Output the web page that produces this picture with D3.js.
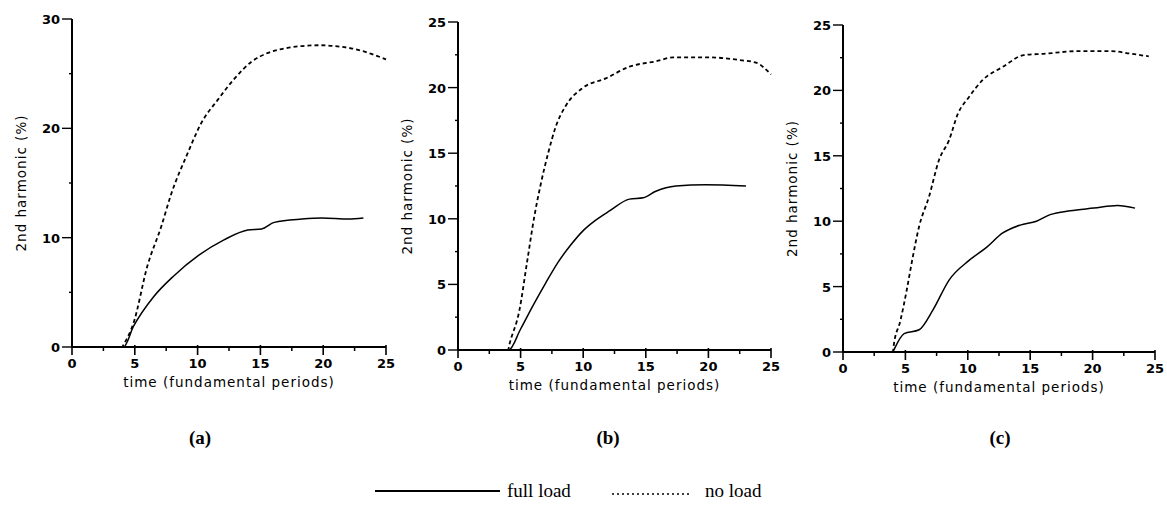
<!DOCTYPE html>
<html>
<head>
<meta charset="utf-8">
<script src="https://cdn.jsdelivr.net/npm/d3@7"></script>
<style>
    body { margin: 0; background: #fff; }
    svg { display: block; }
    .tick-label { font-family: "DejaVu Sans", sans-serif; font-weight: bold; font-size: 13px; }
    .axis-title { font-family: "DejaVu Sans", sans-serif; font-size: 13.5px; letter-spacing: 1px; }
    .caption { font-family: "Liberation Serif", serif; font-weight: bold; font-size: 19px; }
    .legend { font-family: "Liberation Serif", serif; font-size: 19px; }
</style>
</head>
<body>
<div id="chart"></div>
<script>
(function () {
    'use strict';

    // time in fundamental periods, 2nd harmonic in %
    var fullLoadA = [[0, 0], [4, 0], [4.1, 0], [4.9, 1.9], [6.5, 4.6], [8.1, 6.5], [10.1, 8.4], [12.1, 9.8],
        [14, 10.7], [15.1, 10.8], [16.1, 11.4], [18.3, 11.7], [19.9, 11.8], [22, 11.7], [23.2, 11.8]];
    var noLoadA = [[0, 0], [4, 0], [4.1, 0.2], [4.9, 2.2], [6, 7.4], [7.1, 11], [7.9, 14], [9.2, 17.7],
        [10.3, 20.5], [11.6, 22.6], [12.9, 24.5], [14.3, 26.1], [15.6, 26.9], [16.9, 27.3], [19.6, 27.6],
        [22.3, 27.3], [23.6, 26.9], [25, 26.3]];

    var fullLoadB = [[0, 0], [4, 0], [4.05, 0], [5, 1.6], [6, 3.4], [7, 5.1], [8, 6.7], [9, 8], [10, 9.1],
        [11, 9.9], [12.1, 10.6], [13.7, 11.5], [14.8, 11.6], [15.8, 12.1], [17.4, 12.5], [19.8, 12.6], [23, 12.5]];
    var noLoadB = [[0, 0], [4, 0], [4.1, 0.4], [4.9, 3], [5.5, 6.6], [6.1, 10.2], [6.6, 12.6],
        [7.2, 15], [7.8, 17], [8.6, 18.6], [10, 20], [11.8, 20.7], [13.7, 21.6], [15.8, 22], [17.2, 22.3],
        [20.1, 22.3], [22.5, 22.1], [23.8, 21.9], [25, 21]];

    var fullLoadC = [[0, 0], [4, 0], [4.05, 0.1], [4.9, 1.4], [6.1, 1.7], [7.2, 3.2], [8.5, 5.5], [10.1, 7],
        [11.5, 8], [12.8, 9.1], [14.2, 9.7], [15.5, 10], [16.6, 10.5], [18.2, 10.8], [20.1, 11], [22, 11.2], [23.4, 11]];
    var noLoadC = [[0, 0], [4, 0], [4.05, 0.4], [4.6, 2.4], [5.1, 4.7], [5.5, 6.8], [6.1, 9.6], [6.9, 11.9],
        [7.7, 14.7], [8.5, 16.2], [9.2, 18.2], [10.1, 19.5], [11.2, 20.8], [12.8, 21.8], [14.5, 22.7],
        [16.1, 22.8], [18.8, 23], [21.5, 23], [23.1, 22.8], [24.5, 22.6]];

    var xTicks = [0, 5, 10, 15, 20, 25];
    var xMinor = [2.5, 7.5, 12.5, 17.5, 22.5];
    var yTicksA = [0, 10, 20, 30];
    var yMinorA = [5, 15, 25];
    var yTicksBC = [0, 5, 10, 15, 20, 25];
    var yMinorBC = [2.5, 7.5, 12.5, 17.5, 22.5];

    var panels = [
        { left: 72, right: 386, bottom: 347, top: 19, yMax: 30, yTicks: yTicksA, yMinor: yMinorA,
          full: fullLoadA, none: noLoadA, caption: '(a)', capX: 200 },
        { left: 458, right: 771, bottom: 350, top: 22, yMax: 25, yTicks: yTicksBC, yMinor: yMinorBC,
          full: fullLoadB, none: noLoadB, caption: '(b)', capX: 608 },
        { left: 843, right: 1155, bottom: 352, top: 25, yMax: 25, yTicks: yTicksBC, yMinor: yMinorBC,
          full: fullLoadC, none: noLoadC, caption: '(c)', capX: 1000 }
    ];

    var svg = d3.select('#chart')
        .append('svg')
        .attr('width', 1167)
        .attr('height', 512);

    panels.forEach(function (p) {
        var x = d3.scaleLinear().domain([0, 25]).range([p.left, p.right]);
        var y = d3.scaleLinear().domain([0, p.yMax]).range([p.bottom, p.top]);
        var g = svg.append('g');

        // axes lines
        g.append('line')
            .attr('x1', x(0)).attr('x2', x(25))
            .attr('y1', y(0)).attr('y2', y(0))
            .attr('stroke', '#000').attr('stroke-width', 2);
        g.append('line')
            .attr('x1', x(0)).attr('x2', x(0))
            .attr('y1', y(0)).attr('y2', y(p.yMax))
            .attr('stroke', '#000').attr('stroke-width', 2);

        // x ticks
        g.selectAll('.xmaj').data(xTicks).enter().append('line')
            .attr('x1', function (d) { return x(d); }).attr('x2', function (d) { return x(d); })
            .attr('y1', y(0) - 2).attr('y2', y(0) + 8)
            .attr('stroke', '#000').attr('stroke-width', 1.6);
        g.selectAll('.xmin').data(xMinor).enter().append('line')
            .attr('x1', function (d) { return x(d); }).attr('x2', function (d) { return x(d); })
            .attr('y1', y(0)).attr('y2', y(0) + 4)
            .attr('stroke', '#000').attr('stroke-width', 1.5);
        g.selectAll('.xlab').data(xTicks).enter().append('text')
            .attr('class', 'tick-label')
            .attr('x', function (d) { return x(d); })
            .attr('y', y(0) + 21)
            .attr('text-anchor', 'middle')
            .text(function (d) { return d; });

        // y ticks
        g.selectAll('.ymaj').data(p.yTicks).enter().append('line')
            .attr('x1', x(0) - 10).attr('x2', x(0))
            .attr('y1', function (d) { return y(d); }).attr('y2', function (d) { return y(d); })
            .attr('stroke', '#000').attr('stroke-width', 1.4);
        g.selectAll('.ymin').data(p.yMinor).enter().append('line')
            .attr('x1', x(0) - 3).attr('x2', x(0))
            .attr('y1', function (d) { return y(d); }).attr('y2', function (d) { return y(d); })
            .attr('stroke', '#000').attr('stroke-width', 1.4);
        g.selectAll('.ylab').data(p.yTicks).enter().append('text')
            .attr('class', 'tick-label')
            .attr('x', x(0) - 12)
            .attr('y', function (d) { return y(d) + 5; })
            .attr('text-anchor', 'end')
            .text(function (d) { return d; });

        // titles
        g.append('text')
            .attr('class', 'axis-title')
            .attr('x', (x(0) + x(25)) / 2)
            .attr('y', y(0) + 40)
            .attr('text-anchor', 'middle')
            .text('time (fundamental periods)');
        g.append('text')
            .attr('class', 'axis-title')
            .attr('transform', 'translate(' + (x(0) - 46) + ',' + ((y(0) + y(p.yMax)) / 2) + ') rotate(-90)')
            .attr('text-anchor', 'middle')
            .text('2nd harmonic (%)');

        var line = d3.line()
            .x(function (d) { return x(d[0]); })
            .y(function (d) { return y(d[1]); })
            .curve(d3.curveMonotoneX);

        g.append('path')
            .datum(p.none)
            .attr('d', line)
            .attr('fill', 'none')
            .attr('stroke', '#000')
            .attr('stroke-width', 1.8)
            .attr('stroke-dasharray', '4,3');
        g.append('path')
            .datum(p.full)
            .attr('d', line)
            .attr('fill', 'none')
            .attr('stroke', '#000')
            .attr('stroke-width', 1.5);

        svg.append('text')
            .attr('class', 'caption')
            .attr('x', p.capX)
            .attr('y', 444)
            .attr('text-anchor', 'middle')
            .text(p.caption);
    });

    // legend
    var legend = svg.append('g');
    legend.append('line')
        .attr('x1', 375).attr('x2', 500).attr('y1', 491).attr('y2', 491)
        .attr('stroke', '#000').attr('stroke-width', 1.8);
    legend.append('text').attr('class', 'legend')
        .attr('x', 507).attr('y', 497).text('full load');
    legend.append('line')
        .attr('x1', 612).attr('x2', 690).attr('y1', 494).attr('y2', 494)
        .attr('stroke', '#000').attr('stroke-width', 1.3)
        .attr('stroke-dasharray', '2,3');
    legend.append('text').attr('class', 'legend')
        .attr('x', 705).attr('y', 497).text('no load');
})();
</script>
</body>
</html>
